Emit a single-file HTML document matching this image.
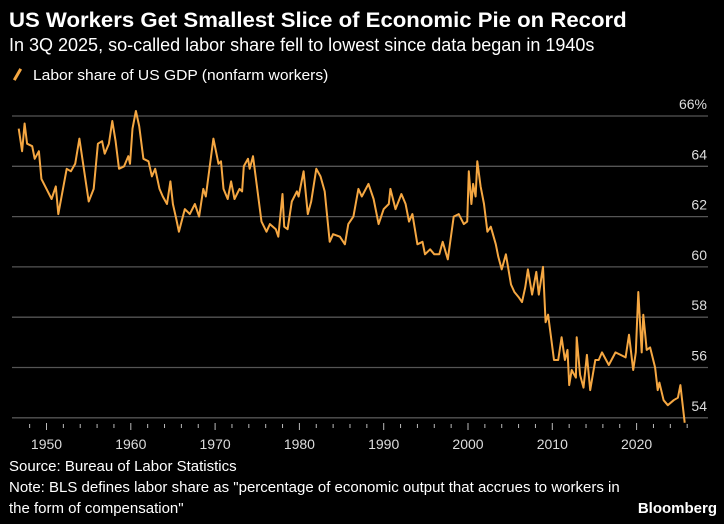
<!DOCTYPE html>
<html><head><meta charset="utf-8"><style>
body{margin:0;background:#000;width:724px;height:524px;overflow:hidden;font-family:"Liberation Sans",sans-serif;color:#fff}
.t{position:absolute;white-space:nowrap}
</style></head><body>
<div class="t" style="left:9px;top:9px;font-size:21px;font-weight:bold;transform:scaleX(1.055);transform-origin:left;">US Workers Get Smallest Slice of Economic Pie on Record</div>
<div class="t" style="left:9px;top:35px;font-size:18px;">In 3Q 2025, so-called labor share fell to lowest since data began in 1940s</div>
<div class="t" style="left:16px;top:68px;width:3px;height:13px;background:#f5a742;transform:rotate(30deg);"></div>
<div class="t" style="left:33px;top:67px;font-size:15px;transform:scaleX(1.04);transform-origin:left;">Labor share of US GDP (nonfarm workers)</div>
<svg id="c" width="724" height="524" style="position:absolute;left:0;top:0"></svg>
<div class="t" style="left:9px;top:458px;font-size:15px;">Source: Bureau of Labor Statistics</div>
<div class="t" style="left:9px;top:479px;font-size:15px;">Note: BLS defines labor share as "percentage of economic output that accrues to workers in</div>
<div class="t" style="left:9px;top:500px;font-size:15px;">the form of compensation"</div>
<div class="t" style="right:7px;top:500px;font-size:15px;font-weight:bold;">Bloomberg</div>
<script>
const years=[1946.7,1947.1,1947.4,1947.7,1948.3,1948.6,1949.1,1949.4,1950,1950.6,1951.1,1951.4,1952.4,1952.9,1953.4,1953.9,1955,1955.6,1956.1,1956.6,1956.9,1957.4,1957.8,1958.2,1958.6,1959.2,1959.7,1959.9,1960.2,1960.6,1961,1961.5,1962.1,1962.5,1962.9,1963.4,1963.8,1964.3,1964.7,1965,1965.4,1965.7,1966.4,1967,1967.6,1968.1,1968.6,1968.9,1969.8,1970.4,1970.7,1971,1971.5,1971.9,1972.3,1972.9,1973.2,1973.4,1973.9,1974.1,1974.5,1975.5,1976.1,1976.5,1977.2,1977.5,1978,1978.2,1978.6,1979.1,1979.7,1979.9,1980.5,1981,1981.4,1982,1982.5,1983,1983.6,1984,1984.8,1985.4,1985.8,1986.4,1987,1987.4,1988.2,1988.8,1989.4,1990,1990.6,1990.8,1991.4,1992.1,1992.6,1993,1993.4,1994,1994.6,1994.9,1995.5,1996,1996.6,1997,1997.6,1998.3,1998.9,1999.5,1999.9,2000.1,2000.4,2000.6,2000.9,2001.1,2001.5,2001.9,2002.3,2002.7,2003.3,2003.6,2004,2004.5,2005.1,2005.5,2006,2006.4,2006.8,2007.1,2007.6,2008.1,2008.4,2008.9,2009.2,2009.5,2010.2,2010.7,2011.1,2011.5,2011.8,2012,2012.3,2012.8,2012.9,2013.3,2013.7,2014.1,2014.5,2015.1,2015.5,2015.9,2016.7,2017.5,2018.1,2018.7,2019.1,2019.6,2019.9,2020.2,2020.6,2020.8,2021.2,2021.6,2022.2,2022.5,2022.7,2023.2,2023.7,2024.4,2024.9,2025.2,2025.7];
const values=[65.5,64.6,65.7,64.9,64.8,64.3,64.6,63.5,63.1,62.7,63.2,62.1,63.9,63.8,64.1,65.1,62.6,63.1,64.9,65.0,64.5,64.9,65.8,65.0,63.9,64.0,64.4,64.1,65.5,66.2,65.6,64.3,64.2,63.6,63.9,63.1,62.8,62.5,63.4,62.5,61.9,61.4,62.3,62.1,62.5,62.0,63.1,62.8,65.1,64.1,64.2,63.1,62.7,63.4,62.7,63.1,63.0,64.0,64.3,63.9,64.4,61.8,61.4,61.7,61.5,61.2,62.9,61.6,61.5,62.6,63.0,62.8,63.8,62.1,62.6,63.9,63.6,63.0,61.0,61.3,61.2,60.9,61.7,62.0,63.1,62.8,63.3,62.7,61.7,62.3,62.5,63.1,62.3,62.9,62.5,61.8,62.1,60.9,61.0,60.5,60.7,60.5,60.5,61.0,60.3,62.0,62.1,61.7,61.8,63.8,62.5,63.3,62.8,64.2,63.2,62.5,61.4,61.6,60.9,60.4,59.9,60.5,59.3,59.0,58.8,58.6,59.2,59.9,58.9,59.8,58.9,60.0,57.8,58.1,56.3,56.3,57.2,56.3,56.7,55.3,55.9,55.6,57.2,55.7,55.2,56.5,55.1,56.3,56.3,56.6,56.1,56.6,56.5,56.4,57.3,55.9,56.6,59.0,56.6,58.1,56.7,56.8,56.0,55.1,55.4,54.7,54.5,54.7,54.8,55.3,53.8];
const yTicks=[66,64,62,60,58,56,54];
const xLabels=[1950,1960,1970,1980,1990,2000,2010,2020];
const NS="http://www.w3.org/2000/svg";
const svg=document.getElementById('c');
const X=y=>46.5+(y-1950)*8.43;
const Y=v=>116+(66-v)*25.15;
function mk(t,a){const e=document.createElementNS(NS,t);for(const k in a)e.setAttribute(k,a[k]);svg.appendChild(e);return e;}
yTicks.forEach(v=>{
  const l=mk('line',{x1:12,x2:708,y1:Y(v),y2:Y(v),stroke:'#555','stroke-width':1.3});
  
  
  const t=mk('text',{x:707,y:Y(v)-7,'text-anchor':'end',fill:'#ddd','font-size':14,'font-family':'"Liberation Sans",sans-serif'});
  t.textContent=v+(v===66?'%':'');
  
  
});
for(let yr=1948;yr<=2026;yr+=2){
  const maj=yr%10===0;
  const l=mk('line',{x1:X(yr),x2:X(yr),y1:maj?423:424,y2:maj?430:428,stroke:'#bbb','stroke-width':1});
  
  
}
xLabels.forEach(yr=>{
  const t=mk('text',{x:X(yr),y:449,'text-anchor':'middle',fill:'#ddd','font-size':14,'font-family':'"Liberation Sans",sans-serif'});
  t.textContent=yr;
  
  
});
const d=years.map((yr,i)=>(i?'L':'M')+X(yr).toFixed(1)+','+Y(values[i]).toFixed(1)).join('');
const p=mk('path',{d:d,fill:'none',stroke:'#f5a742','stroke-width':2,'stroke-linejoin':'round'});


</script>
</body></html>
